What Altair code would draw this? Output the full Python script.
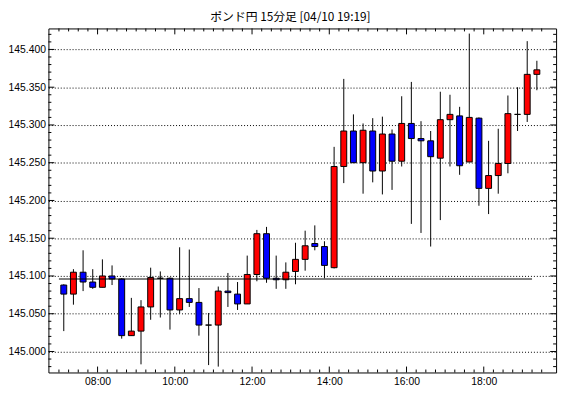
import altair as alt
import pandas as pd
import numpy as np

TITLE = "ポンド円 15分足 [04/10 19:19]"

TIMES = ["07:00", "07:15", "07:30", "07:45", "08:00", "08:15", "08:30", "08:45",
         "09:00", "09:15", "09:30", "09:45", "10:00", "10:15", "10:30", "10:45",
         "11:00", "11:15", "11:30", "11:45", "12:00", "12:15", "12:30", "12:45",
         "13:00", "13:15", "13:30", "13:45", "14:00", "14:15", "14:30", "14:45",
         "15:00", "15:15", "15:30", "15:45", "16:00", "16:15", "16:30", "16:45",
         "17:00", "17:15", "17:30", "17:45", "18:00", "18:15", "18:30", "18:45",
         "19:00", "19:15"]

OPEN = [145.088, 145.076, 145.105, 145.092, 145.085, 145.100, 145.096, 145.021,
        145.027, 145.059, 145.097, 145.097, 145.055, 145.070, 145.065, 145.035,
        145.035, 145.080, 145.076, 145.063, 145.102, 145.156, 145.097, 145.095,
        145.106, 145.122, 145.143, 145.139, 145.111, 145.245, 145.292, 145.250,
        145.292, 145.239, 145.288, 145.252, 145.302, 145.282, 145.279, 145.256,
        145.307, 145.312, 145.251, 145.309, 145.216, 145.233, 145.249, 145.314,
        145.314, 145.367]
HIGH = [145.089, 145.109, 145.134, 145.109, 145.122, 145.114, 145.097, 145.071,
        145.068, 145.111, 145.106, 145.098, 145.138, 145.135, 145.084, 145.051,
        145.086, 145.104, 145.092, 145.127, 145.161, 145.165, 145.127, 145.118,
        145.144, 145.160, 145.167, 145.146, 145.271, 145.361, 145.314, 145.302,
        145.309, 145.311, 145.294, 145.338, 145.357, 145.305, 145.292, 145.344,
        145.340, 145.324, 145.421, 145.310, 145.279, 145.295, 145.339, 145.350,
        145.411, 145.385]
LOW = [145.027, 145.062, 145.080, 145.083, 145.085, 145.088, 145.017, 145.021,
       144.983, 145.042, 145.045, 145.029, 145.050, 145.059, 145.021, 144.982,
       144.980, 145.059, 145.055, 145.063, 145.093, 145.091, 145.083, 145.083,
       145.089, 145.107, 145.134, 145.097, 145.110, 145.223, 145.250, 145.209,
       145.224, 145.208, 145.214, 145.245, 145.169, 145.157, 145.139, 145.174,
       145.245, 145.234, 145.251, 145.193, 145.182, 145.209, 145.236, 145.292,
       145.304, 145.346]
CLOSE = [145.076, 145.105, 145.092, 145.085, 145.100, 145.096, 145.021, 145.027,
         145.059, 145.098, 145.097, 145.055, 145.070, 145.065, 145.035, 145.035,
         145.080, 145.078, 145.063, 145.102, 145.156, 145.097, 145.095, 145.105,
         145.122, 145.140, 145.139, 145.114, 145.245, 145.292, 145.250, 145.293,
         145.239, 145.288, 145.252, 145.302, 145.282, 145.279, 145.258, 145.307,
         145.314, 145.246, 145.310, 145.216, 145.233, 145.249, 145.315, 145.314,
         145.367, 145.373]

REF_LEVEL = 145.096
REF_START = "07:00"
REF_END = "19:15"

Y_LABELS = [145.000, 145.050, 145.100, 145.150, 145.200, 145.250, 145.300, 145.350, 145.400]
X_TICK_HOURS = [8, 10, 12, 14, 16, 18]
X_TICK_LABELS = ["08:00", "10:00", "12:00", "14:00", "16:00", "18:00"]

X_DOMAIN = [6.855, 19.745]
Y_DOMAIN = [144.9722, 145.4278]
W, H = 515, 349
FONT = "Liberation Sans"


def hours(s):
    h, m = s.split(":")
    return int(h) + int(m) / 60.0


df = pd.DataFrame({
    "t": [hours(s) + 0.125 for s in TIMES],
    "open": OPEN, "high": HIGH, "low": LOW, "close": CLOSE,
})
df["dir"] = np.where(df["close"] >= df["open"], "up", "down")

xs = alt.Scale(domain=X_DOMAIN, nice=False, zero=False)
ys = alt.Scale(domain=Y_DOMAIN, nice=False, zero=False)

label_expr = "[" + ",".join("'%s'" % l for l in X_TICK_LABELS) + "][indexof([" + \
    ",".join(str(v) for v in X_TICK_HOURS) + "], datum.value)]"
x_axis = alt.Axis(values=X_TICK_HOURS, labelExpr=label_expr, ticks=False, domain=False,
                  grid=False, title=None, labelFont=FONT, labelFontSize=10.5,
                  labelColor="black", labelPadding=4)
y_axis = alt.Axis(values=Y_LABELS, format=".3f", ticks=False, domain=False, grid=True,
                  gridColor="black", gridDash=[1, 2], gridOpacity=1, gridWidth=1,
                  title=None, labelFont=FONT, labelFontSize=10.5, labelColor="black",
                  labelPadding=3)

X = alt.X("t:Q", scale=xs, axis=x_axis)

base = alt.Chart(df)
wick = base.mark_rule(color="black", strokeWidth=1).encode(
    x=X, y=alt.Y("low:Q", scale=ys, axis=y_axis), y2="high:Q")
body = base.mark_bar(size=6, stroke="black", strokeWidth=1).encode(
    x=X, y=alt.Y("open:Q", scale=ys, axis=y_axis), y2="close:Q",
    color=alt.Color("dir:N", scale=alt.Scale(domain=["up", "down"],
                                             range=["#ff0000", "#0000ff"]), legend=None))

ref = alt.Chart(pd.DataFrame({"x": [hours(REF_START)], "x2": [hours(REF_END)],
                              "y": [REF_LEVEL]})).mark_rule(color="black", strokeWidth=1).encode(
    x=alt.X("x:Q", scale=xs, axis=x_axis), x2="x2:Q",
    y=alt.Y("y:Q", scale=ys, axis=y_axis))

# inward frame ticks
yt = np.round(np.arange(144.98, 145.425, 0.01), 3)
ytick = pd.DataFrame({"v": yt, "major": [abs(v * 20 - round(v * 20)) < 1e-6 for v in yt]})
xt = np.arange(7.0, 19.75, 0.25)
xtick = pd.DataFrame({"v": xt, "major": [abs(v / 2 - round(v / 2)) < 1e-6 for v in xt]})


def ytick_layer(major, x0, x1):
    d = ytick[ytick["major"] == major]
    return alt.Chart(d).mark_rule(color="black", strokeWidth=1).encode(
        y=alt.Y("v:Q", scale=ys, axis=y_axis), x=alt.value(x0), x2=alt.value(x1))


def xtick_layer(major, y0, y1):
    d = xtick[xtick["major"] == major]
    return alt.Chart(d).mark_rule(color="black", strokeWidth=1).encode(
        x=alt.X("v:Q", scale=xs, axis=x_axis), y=alt.value(y0), y2=alt.value(y1))


ticks = [
    ytick_layer(False, 0, 3), ytick_layer(True, 0, 6),
    ytick_layer(False, W, W - 3), ytick_layer(True, W, W - 6),
    xtick_layer(False, H, H - 3), xtick_layer(True, H, H - 6),
    xtick_layer(False, 0, 3), xtick_layer(True, 0, 6),
]

chart = alt.layer(wick, body, ref, *ticks).properties(
    width=W, height=H,
    padding={"left": 41, "top": 18, "right": 6, "bottom": 14},
    autosize=alt.AutoSizeParams(type="none"),
    background="white",
    title=alt.TitleParams(TITLE, font="Noto Sans CJK JP", fontSize=12, fontWeight="normal",
                          color="black", anchor="middle", offset=4, baseline="bottom",
                          dy=12, dx=-12),
).configure_view(stroke="black", strokeWidth=1)

chart.save("out.html", embed_options={"renderer": "svg", "actions": False})
